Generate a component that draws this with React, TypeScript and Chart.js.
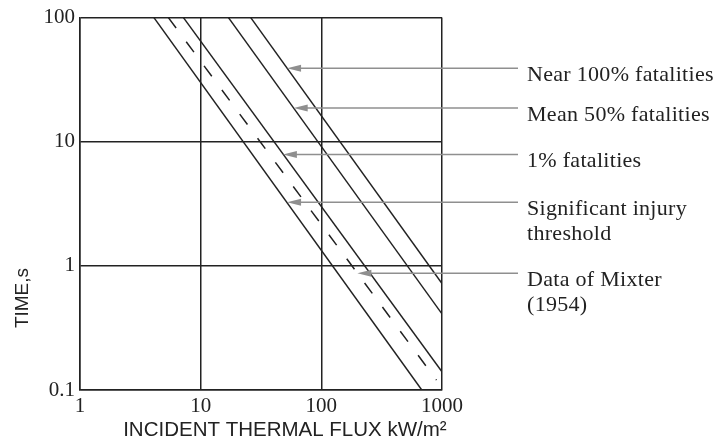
import React, { useEffect, useRef } from 'react';
import { Chart, registerables } from 'chart.js';

Chart.register(...registerables);

// Axis ticks (decades only)
const xTickValues = [1, 10, 100, 1000];
const yTickValues = [0.1, 1, 10, 100];

// Lines (log-log straight lines)
const near100Line = [{ x: 26, y: 100 }, { x: 1000, y: 0.72 }];
const mean50Line = [{ x: 17, y: 100 }, { x: 1000, y: 0.41 }];
const onePctLine = [{ x: 7.2, y: 100 }, { x: 1000, y: 0.14 }];
const injuryLine = [{ x: 4.1, y: 100 }, { x: 680, y: 0.1 }];
const mixterLine = [{ x: 5.4, y: 100 }, { x: 900, y: 0.12 }];

// Annotation labels and arrow tips (data coordinates)
const labelLines = [
  ['Near 100% fatalities'],
  ['Mean 50% fatalities'],
  ['1% fatalities'],
  ['Significant injury', 'threshold'],
  ['Data of Mixter', '(1954)'],
];
const arrowTipX = [52, 59, 48, 52, 199];
const arrowTipY = [39, 18.7, 7.9, 3.26, 0.87];

const xTitle = 'INCIDENT THERMAL FLUX kW/m\u00B2';
const yTitle = 'TIME,s';

const INK = '#222222';
const ARROW = '#8f8f8f';

const annotationPlugin = {
  id: 'annotations',
  afterDatasetsDraw(chart: any) {
    const { ctx, chartArea } = chart;
    const xs = chart.scales.x;
    const ys = chart.scales.y;
    ctx.save();
    const lineEnd = chartArea.right + 76;
    const textX = chartArea.right + 85;
    for (let i = 0; i < labelLines.length; i++) {
      const tx = xs.getPixelForValue(arrowTipX[i]);
      const ty = ys.getPixelForValue(arrowTipY[i]);
      const headLen = 14;
      const headHalf = 3.5;
      ctx.strokeStyle = ARROW;
      ctx.fillStyle = ARROW;
      ctx.lineWidth = 1.5;
      ctx.beginPath();
      ctx.moveTo(tx + headLen - 2, ty);
      ctx.lineTo(lineEnd, ty);
      ctx.stroke();
      ctx.beginPath();
      ctx.moveTo(tx, ty);
      ctx.lineTo(tx + headLen, ty - headHalf);
      ctx.lineTo(tx + headLen, ty + headHalf);
      ctx.closePath();
      ctx.fill();

      ctx.fillStyle = INK;
      ctx.font = '22px "Liberation Serif"';
      try { (ctx as any).letterSpacing = '0.3px'; } catch (e) {}
      ctx.textAlign = 'left';
      ctx.textBaseline = 'middle';
      labelLines[i].forEach((t, j) => {
        ctx.fillText(t, textX, ty + 7 + j * 25);
      });
      try { (ctx as any).letterSpacing = '0px'; } catch (e) {}
    }

    // axis titles
    ctx.fillStyle = INK;
    ctx.font = '20.5px "Liberation Sans"';
    ctx.textAlign = 'center';
    ctx.textBaseline = 'middle';
    ctx.fillText(xTitle, chartArea.left + 0.566 * (chartArea.right - chartArea.left), chartArea.bottom + 40);

    ctx.save();
    ctx.translate(chartArea.left - 57, chartArea.top + 0.753 * (chartArea.bottom - chartArea.top));
    ctx.rotate(-Math.PI / 2);
    ctx.font = '19px "Liberation Sans"';
    ctx.fillText(yTitle, 0, 0);
    ctx.restore();

    ctx.restore();
  },
};

export default function App() {
  const canvasRef = useRef<HTMLCanvasElement | null>(null);

  useEffect(() => {
    if (!canvasRef.current) return;
    const lineDs = (label: string, data: any[], dash: number[] = []) => ({
      label,
      data,
      showLine: true,
      borderColor: INK,
      backgroundColor: INK,
      borderWidth: 1.5,
      borderDash: dash,
      pointRadius: 0,
      fill: false,
    });
    const chart = new Chart(canvasRef.current, {
      type: 'scatter',
      data: {
        datasets: [
          lineDs('Near 100% fatalities', near100Line),
          lineDs('Mean 50% fatalities', mean50Line),
          lineDs('1% fatalities', onePctLine),
          lineDs('Significant injury threshold', injuryLine),
          lineDs('Data of Mixter (1954)', mixterLine, [13, 17]),
        ],
      },
      options: {
        responsive: false,
        maintainAspectRatio: false,
        animation: false,
        layout: { padding: { left: 0, right: 284, top: 17, bottom: 0 } },
        plugins: {
          legend: { display: false },
          tooltip: { enabled: false },
        },
        scales: {
          x: {
            type: 'logarithmic',
            min: 1,
            max: 1000,
            afterBuildTicks: (scale: any) => {
              scale.ticks = xTickValues.map((v) => ({ value: v }));
            },
            afterFit: (scale: any) => {
              scale.height = 53;
            },
            grid: { color: INK, lineWidth: 1.5, drawTicks: false },
            border: { color: INK, width: 1.5 },
            ticks: {
              color: INK,
              font: { family: 'Liberation Serif', size: 21 },
              padding: 4,
              maxRotation: 0,
              autoSkip: false,
              callback: (v: any) => String(v),
            },
          },
          y: {
            type: 'logarithmic',
            min: 0.1,
            max: 100,
            afterBuildTicks: (scale: any) => {
              scale.ticks = yTickValues.map((v) => ({ value: v }));
            },
            afterFit: (scale: any) => {
              scale.width = 80;
            },
            grid: { color: INK, lineWidth: 1.5, drawTicks: false },
            border: { color: INK, width: 1.5 },
            ticks: {
              color: INK,
              font: { family: 'Liberation Serif', size: 21 },
              padding: 5,
              autoSkip: false,
              callback: (v: any) => String(v),
            },
          },
        },
      },
      plugins: [annotationPlugin],
    });
    return () => chart.destroy();
  }, []);

  return (
    <div style={{ position: 'fixed', left: 0, top: 0, width: 726, height: 443, background: '#fff' }}>
      <canvas ref={canvasRef} width={726} height={443} />
    </div>
  );
}
